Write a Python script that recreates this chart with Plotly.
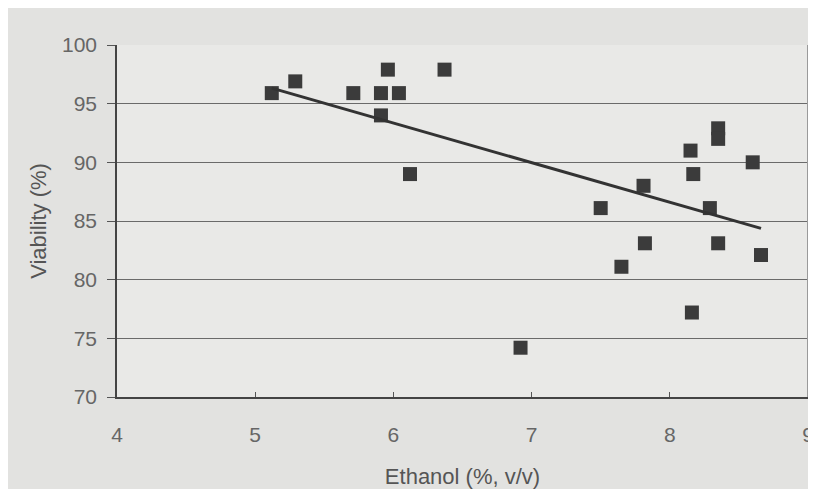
import numpy as np
import plotly.graph_objects as go

ethanol = [5.12, 5.29, 5.71, 5.91, 5.96, 6.04, 5.91, 6.12, 6.37, 6.92, 7.50, 7.65,
           7.81, 7.82, 8.15, 8.17, 8.16, 8.29, 8.35, 8.35, 8.35, 8.60, 8.66]
viability = [95.9, 96.9, 95.9, 95.9, 97.9, 95.9, 94.0, 89.0, 97.9, 74.2, 86.1, 81.1,
             88.0, 83.1, 91.0, 89.0, 77.2, 86.1, 83.1, 92.9, 92.0, 90.0, 82.1]
x_ticks = [4, 5, 6, 7, 8, 9]
y_ticks = [70, 75, 80, 85, 90, 95, 100]

slope, intercept = np.polyfit(ethanol, viability, 1)
fit_x = [min(ethanol), max(ethanol)]
fit_y = [slope * v + intercept for v in fit_x]

fig = go.Figure()
fig.add_trace(go.Scatter(x=ethanol, y=viability, mode="markers",
                         marker=dict(symbol="square", size=14, color="#3b3b3b"),
                         showlegend=False, cliponaxis=False))
fig.add_trace(go.Scatter(x=fit_x, y=fit_y, mode="lines",
                         line=dict(color="#333333", width=3), showlegend=False))

fig.update_layout(
    width=800, height=481,
    margin=dict(l=109, r=0, t=37, b=92),
    paper_bgcolor="#e2e2e0", plot_bgcolor="#e9e9e7",
    font=dict(family="Liberation Sans, Arial", color="#555555"),
    xaxis=dict(range=[4, 9.0001], tickvals=x_ticks, showgrid=False, zeroline=False,
               automargin=False,
               showline=True, linecolor="#444444", linewidth=1.5,
               ticks="inside", ticklen=5, tickcolor="#555555",
               ticklabelstandoff=18, ticklabeloverflow="allow",
               tickfont=dict(size=21, color="#666666"),
               title=dict(text="Ethanol (%, v/v)", font=dict(size=22, color="#555555"), standoff=30)),
    yaxis=dict(range=[70, 100], tickvals=y_ticks, showgrid=True, gridcolor="#6a6a6a", gridwidth=1,
               zeroline=False, automargin=False,
               showline=True, linecolor="#444444", linewidth=1.5,
               ticks="outside", ticklen=8, tickcolor="#555555",
               ticklabelstandoff=6,
               tickfont=dict(size=21, color="#666666"),
               title=dict(text="Viability (%)", font=dict(size=22, color="#555555"), standoff=9)),
)
fig.add_shape(type="line", xref="paper", yref="paper", x0=1, x1=1, y0=0, y1=1,
              line=dict(color="#9a9a9a", width=2))

fig.write_html("out.html")
